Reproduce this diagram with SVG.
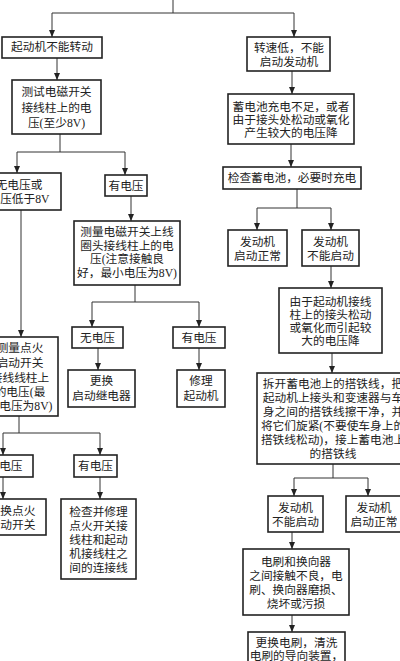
<svg xmlns="http://www.w3.org/2000/svg" width="400" height="661" viewBox="0 0 400 661">
<style>
.b{fill:#fff;stroke:#222;stroke-width:1.6}
.t{font-family:"Liberation Serif","Noto Sans CJK SC",serif;font-size:11.7px;fill:#222;text-anchor:middle;dominant-baseline:central}
.c{fill:none;stroke:#333;stroke-width:1}
.a{fill:none;stroke:#333;stroke-width:1;marker-end:url(#ah)}
</style>
<defs>
<marker id="ah" markerUnits="userSpaceOnUse" markerWidth="7" markerHeight="7" refX="7" refY="3" orient="auto">
<path d="M0,0 L7,3 L0,6 z" fill="#222"/>
</marker>
</defs>
<rect width="400" height="661" fill="#fff"/>
<g id="connectors">
<path class="c" d="M173,0 V13 M52,13 H294"/>
<path class="a" d="M52,13 V37"/>
<path class="a" d="M294,13 V37"/>
<path class="a" d="M57,58 V80"/>
<path class="c" d="M60,134 V152 M17,152 H125"/>
<path class="a" d="M17,152 V173"/>
<path class="a" d="M125,152 V175"/>
<path class="a" d="M21,210 V337"/>
<path class="a" d="M131,196 V221"/>
<path class="c" d="M135,285 V302 M92,302 H199"/>
<path class="a" d="M92,302 V327"/>
<path class="a" d="M199,302 V327"/>
<path class="a" d="M98,348 V370"/>
<path class="a" d="M199,348 V370"/>
<path class="c" d="M19,416 V433 M3,433 H100"/>
<path class="a" d="M3,433 V455"/>
<path class="a" d="M100,433 V455"/>
<path class="a" d="M3,477 V499"/>
<path class="a" d="M100,477 V499"/>
<path class="a" d="M292,71 V94"/>
<path class="a" d="M291,144 V167"/>
<path class="c" d="M297,189 V208 M257,208 H331"/>
<path class="a" d="M257,208 V230"/>
<path class="a" d="M331,208 V230"/>
<path class="a" d="M331,266 V288"/>
<path class="a" d="M332,353 V373"/>
<path class="c" d="M333,464 V478 M294,478 H368"/>
<path class="a" d="M294,478 V496"/>
<path class="a" d="M368,478 V496"/>
<path class="a" d="M292,532 V549"/>
<path class="a" d="M292,615 V632"/>
</g>
<g id="n1"><rect class="b" x="2" y="37" width="100" height="21"/><text class="t" x="52" y="47.5">起动机不能转动</text></g>
<g id="n2"><rect class="b" x="12" y="80" width="89" height="54"/><text class="t" x="56.5" y="92">测试电磁开关</text><text class="t" x="56.5" y="108">接线柱上的电</text><text class="t" x="56.5" y="123">压(至少8V)</text></g>
<g id="n3"><rect class="b" x="-23" y="173" width="84" height="37"/><text class="t" x="19" y="185">无电压或</text><text class="t" x="19" y="199">电压低于8V</text></g>
<g id="n4"><rect class="b" x="105" y="175" width="42" height="21"/><text class="t" x="126" y="186">有电压</text></g>
<g id="n5"><rect class="b" x="74" y="221" width="106" height="64"/><text class="t" x="127" y="232.5">测量电磁开关上线</text><text class="t" x="127" y="246">圈头接线柱上的电</text><text class="t" x="127" y="259.5">压(注意接触良</text><text class="t" x="127" y="273">好，最小电压为8V)</text></g>
<g id="n6"><rect class="b" x="72" y="327" width="51" height="21"/><text class="t" x="97.5" y="338">无电压</text></g>
<g id="n7"><rect class="b" x="173" y="327" width="52" height="21"/><text class="t" x="199" y="338">有电压</text></g>
<g id="n8"><rect class="b" x="68" y="370" width="67" height="37"/><text class="t" x="101.5" y="381">更换</text><text class="t" x="101.5" y="396">启动继电器</text></g>
<g id="n9"><rect class="b" x="177" y="370" width="48" height="37"/><text class="t" x="201" y="381">修理</text><text class="t" x="201" y="396">起动机</text></g>
<g id="n10"><rect class="b" x="-18" y="337" width="76" height="79"/><text class="t" x="20" y="348">测量点火</text><text class="t" x="20" y="363">启动开关</text><text class="t" x="20" y="378">接线线柱上</text><text class="t" x="20" y="392">的电压(最</text><text class="t" x="20" y="406">小电压为8V)</text></g>
<g id="n11"><rect class="b" x="-23" y="455" width="56" height="22"/><text class="t" x="5" y="466">无电压</text></g>
<g id="n12"><rect class="b" x="74" y="455" width="43" height="22"/><text class="t" x="95.5" y="466">有电压</text></g>
<g id="n13"><rect class="b" x="-22" y="499" width="68" height="36"/><text class="t" x="12" y="511">更换点火</text><text class="t" x="12" y="525">启动开关</text></g>
<g id="n14"><rect class="b" x="61" y="499" width="75" height="80"/><text class="t" x="98.5" y="512">检查并修理</text><text class="t" x="98.5" y="526">点火开关接</text><text class="t" x="98.5" y="540">线柱和起动</text><text class="t" x="98.5" y="554">机接线柱之</text><text class="t" x="98.5" y="568">间的连接线</text></g>
<g id="r1"><rect class="b" x="247" y="37" width="83" height="34"/><text class="t" x="289" y="48">转速低，不能</text><text class="t" x="289" y="62">启动发动机</text></g>
<g id="r2"><rect class="b" x="228" y="94" width="126" height="50"/><text class="t" x="291" y="107">蓄电池充电不足，或者</text><text class="t" x="291" y="120">由于接头处松动或氧化</text><text class="t" x="291" y="133">产生较大的电压降</text></g>
<g id="r3"><rect class="b" x="223" y="167" width="138" height="22"/><text class="t" x="292" y="178">检查蓄电池，必要时充电</text></g>
<g id="r4"><rect class="b" x="228" y="230" width="59" height="36"/><text class="t" x="257.5" y="242">发动机</text><text class="t" x="257.5" y="256">启动正常</text></g>
<g id="r5"><rect class="b" x="302" y="230" width="57" height="36"/><text class="t" x="330.5" y="242">发动机</text><text class="t" x="330.5" y="256">不能启动</text></g>
<g id="r6"><rect class="b" x="279" y="288" width="103" height="65"/><text class="t" x="330.5" y="302">由于起动机接线</text><text class="t" x="330.5" y="315">柱上的接头松动</text><text class="t" x="330.5" y="328">或氧化而引起较</text><text class="t" x="330.5" y="341">大的电压降</text></g>
<g id="r7"><rect class="b" x="257" y="373" width="152" height="91"/><text class="t" x="333" y="384">拆开蓄电池上的搭铁线，把</text><text class="t" x="333" y="398">起动机上接头和变速器与车</text><text class="t" x="333" y="412">身之间的搭铁线擦干净，并</text><text class="t" x="333" y="426">将它们旋紧(不要使车身上的</text><text class="t" x="333" y="440">搭铁线松动)，接上蓄电池上</text><text class="t" x="333" y="454">的搭铁线</text></g>
<g id="r8"><rect class="b" x="268" y="496" width="55" height="36"/><text class="t" x="295.5" y="508">发动机</text><text class="t" x="295.5" y="522">不能启动</text></g>
<g id="r9"><rect class="b" x="346" y="496" width="56" height="36"/><text class="t" x="374" y="508">发动机</text><text class="t" x="374" y="522">启动正常</text></g>
<g id="r10"><rect class="b" x="243" y="549" width="106" height="66"/><text class="t" x="296" y="562">电刷和换向器</text><text class="t" x="296" y="576">之间接触不良，电</text><text class="t" x="296" y="590">刷、换向器磨损、</text><text class="t" x="296" y="604">烧坏或污损</text></g>
<g id="r11"><rect class="b" x="248" y="632" width="97" height="40"/><text class="t" x="296.5" y="643">更换电刷，清洗</text><text class="t" x="296.5" y="656">电刷的导向装置，</text></g>
</svg>
